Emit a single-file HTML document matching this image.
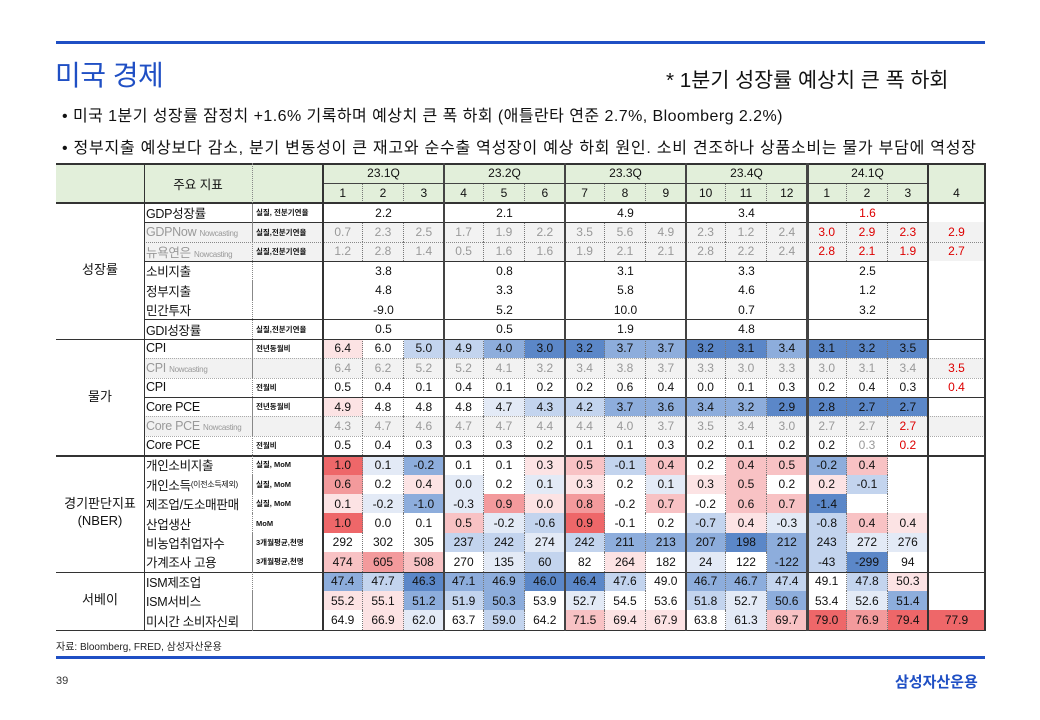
<!DOCTYPE html>
<html><head><meta charset="utf-8">
<style>
body{margin:0;background:#fff;width:1040px;height:720px;position:relative;overflow:hidden;font-family:"Liberation Sans","Noto Sans CJK KR",sans-serif;}
.a{position:absolute;}
.c{position:absolute;box-sizing:border-box;display:flex;align-items:center;justify-content:center;font-size:12px;color:#111;white-space:nowrap;}
.l{justify-content:flex-start;padding-left:2px;}
.u{font-size:7.5px;font-weight:bold;justify-content:flex-start;padding-left:3px;}
.ln{z-index:5;}
</style></head><body>
<div class="a" style="left:56px;top:41px;width:929px;height:3px;background:#1f4fc4"></div>
<div class="a" style="left:55px;top:54px;font-size:28px;color:#1f4fc4;letter-spacing:-0.5px">미국 경제</div>
<div class="a" style="left:666px;top:63px;font-size:20.7px;color:#111">* 1분기 성장률 예상치 큰 폭 하회</div>
<div class="a" style="left:62px;top:102px;font-size:16px;color:#111;letter-spacing:0.45px">• 미국 1분기 성장률 잠정치 +1.6% 기록하며 예상치 큰 폭 하회 (애틀란타 연준 2.7%, Bloomberg 2.2%)</div>
<div class="a" style="left:62px;top:134px;font-size:16px;color:#111;letter-spacing:0.75px">• 정부지출 예상보다 감소, 분기 변동성이 큰 재고와 순수출 역성장이 예상 하회 원인. 소비 견조하나 상품소비는 물가 부담에 역성장</div>
<div id="t"></div>
<div class="a" style="left:56px;top:638px;font-size:10px;color:#222">자료: Bloomberg, FRED, 삼성자산운용</div>
<div class="a" style="left:56px;top:656px;width:929px;height:3px;background:#1f4fc4"></div>
<div class="a" style="left:56px;top:675px;font-size:11px;color:#333">39</div>
<div class="a" style="left:895px;top:671px;font-size:15px;font-weight:bold;color:#1f4fc4">삼성자산운용</div>
<script>
var T=document.getElementById('t'),h='';
var MW=40.33,colX=[];
for(var i=0;i<12;i++)colX.push(323+i*MW);
for(var i=0;i<3;i++)colX.push(807+i*MW);
colX.push(928);
function cx(i){return colX[i];}
function cw(i){return i==15?57:MW;}
var RH=19.4,Y0=203;
function ry(r){return Y0+r*RH;}
var C={B3:'#5b87c8',B2:'#8daddc',B1:'#c3d4ee',B0:'#e3eaf6',W:'#ffffff',R0:'#fce3e4',R1:'#f8c2c4',R2:'#f39a9c',R3:'#ee6769','':'#fff'};
function cell(x,y,w,ht,txt,st,cls){h+='<div class="c '+(cls||'')+'" style="left:'+x+'px;top:'+y+'px;width:'+w+'px;height:'+ht+'px;'+(st||'')+'">'+txt+'</div>';}
function line(x,y,w,ht,st){h+='<div class="a ln" style="left:'+x+'px;top:'+y+'px;width:'+w+'px;height:'+ht+'px;'+st+'"></div>';}
var G='background:#e2efda;';
cell(56,163,88,40,'',G);
cell(144,163,108,40,'주요 지표',G+'font-size:12.5px');
cell(252,163,71,40,'',G);
var qs=['23.1Q','23.2Q','23.3Q','23.4Q','24.1Q'];
for(var q=0;q<5;q++)cell(323+q*121,163,121,20,qs[q],G);
cell(928,163,57,20,'',G);
var ms=['1','2','3','4','5','6','7','8','9','10','11','12','1','2','3','4'];
for(var i=0;i<16;i++)cell(cx(i),183,cw(i),20,ms[i],G+(i%3!=2&&i<15?'border-right:1px dotted #777;':''));
line(323,183,605,1,'background:#444');
var rows=[
['GDP성장률','실질, 전분기연율','q',['2.2','2.1','4.9','3.4','1.6r','']],
['<span style="color:#999">GDPNow <span style="font-size:8px">Nowcasting</span></span>','실질,전분기연율','g',['0.7','2.3','2.5','1.7','1.9','2.2','3.5','5.6','4.9','2.3','1.2','2.4','3.0r','2.9r','2.3r','2.9r']],
['<span style="color:#999">뉴욕연은 <span style="font-size:8px">Nowcasting</span></span>','실질,전분기연율','g',['1.2','2.8','1.4','0.5','1.6','1.6','1.9','2.1','2.1','2.8','2.2','2.4','2.8r','2.1r','1.9r','2.7r']],
['소비지출','','q',['3.8','0.8','3.1','3.3','2.5','']],
['정부지출','','q',['4.8','3.3','5.8','4.6','1.2','']],
['민간투자','','q',['-9.0','5.2','10.0','0.7','3.2','']],
['GDI성장률','실질,전분기연율','q',['0.5','0.5','1.9','4.8','','']],
['CPI','전년동월비','m',['6.4R0','6.0W','5.0B1','4.9B1','4.0B2','3.0B3','3.2B3','3.7B2','3.7B2','3.2B3','3.1B3','3.4B2','3.1B3','3.2B3','3.5B3','']],
['<span style="color:#999">CPI <span style="font-size:8px">Nowcasting</span></span>','','g',['6.4','6.2','5.2','5.2','4.1','3.2','3.4','3.8','3.7','3.3','3.0','3.3','3.0','3.1','3.4','3.5r']],
['CPI','전월비','m',['0.5','0.4','0.1','0.4','0.1','0.2','0.2','0.6','0.4','0.0','0.1','0.3','0.2','0.4','0.3','0.4r']],
['Core PCE','전년동월비','m',['4.9R0','4.8W','4.8W','4.8W','4.7B0','4.3B1','4.2B1','3.7B2','3.6B2','3.4B2','3.2B2','2.9B3','2.8B3','2.7B3','2.7B3','']],
['<span style="color:#999">Core PCE <span style="font-size:8px">Nowcasting</span></span>','','g',['4.3','4.7','4.6','4.7','4.7','4.4','4.4','4.0','3.7','3.5','3.4','3.0','2.7','2.7','2.7r','']],
['Core PCE','전월비','m',['0.5','0.4','0.3','0.3','0.3','0.2','0.1','0.1','0.3','0.2','0.1','0.2','0.2','0.3g','0.2r','']],
['개인소비지출','실질, MoM','m',['1.0R3','0.1B0','-0.2B2','0.1W','0.1W','0.3R0','0.5R1','-0.1B1','0.4R1','0.2W','0.4R1','0.5R1','-0.2B2','0.4R1','','']],
['개인소득<span style="font-size:8px">(이전소득제외)</span>','실질, MoM','m',['0.6R2','0.2W','0.4R0','0.0B0','0.2W','0.1B0','0.3R0','0.2W','0.1B0','0.3R0','0.5R1','0.2W','0.2R0','-0.1B1','','']],
['제조업/도소매판매','실질, MoM','m',['0.1R0','-0.2B0','-1.0B2','-0.3B0','0.9R2','0.0R0','0.8R2','-0.2W','0.7R1','-0.2W','0.6R1','0.7R1','-1.4B3','','','']],
['산업생산','MoM','m',['1.0R3','0.0W','0.1W','0.5R1','-0.2B0','-0.6B1','0.9R3','-0.1W','0.2W','-0.7B1','0.4R0','-0.3B0','-0.8B1','0.4R1','0.4R0','']],
['비농업취업자수','3개월평균,천명','m',['292W','302W','305W','237B1','242B1','274B0','242B1','211B2','213B2','207B2','198B3','212B2','243B1','272B0','276B0','']],
['가계조사 고용','3개월평균,천명','m',['474R1','605R2','508R1','270W','135B0','60B1','82W','264R0','182W','24B0','122W','-122B2','-43B1','-299B3','94W','']],
['ISM제조업','','m',['47.4B2','47.7B1','46.3B3','47.1B2','46.9B2','46.0B3','46.4B3','47.6B1','49.0W','46.7B2','46.7B2','47.4B1','49.1W','47.8B1','50.3R0','']],
['ISM서비스','','m',['55.2R0','55.1R0','51.2B2','51.9B1','50.3B2','53.9W','52.7B0','54.5W','53.6W','51.8B1','52.7B0','50.6B2','53.4W','52.6B0','51.4B2','']],
['미시간 소비자신뢰','','m',['64.9W','66.9R0','62.0B0','63.7W','59.0B1','64.2W','71.5R1','69.4R0','67.9R0','63.8W','61.3B0','69.7R1','79.0R3','76.9R2','79.4R3','77.9R3']]
];
for(var r=0;r<rows.length;r++){
 var R=rows[r],y=ry(r),g=R[2]=='g';
 var bg=g?'background:#f2f2f2;':'';
 cell(144,y,108,RH,R[0],bg+'font-size:12.5px;letter-spacing:-0.3px','l');
 cell(252,y,71,RH,R[1],bg+'border-left:1px dotted #888;','u');
 if(R[2]=='q'){
  for(var q=0;q<5;q++){var v=R[3][q],col=/r$/.test(v)?'#d00':'#111';cell(323+q*121,y,121,RH,v.replace(/r$/,''),'color:'+col);}
 } else {
  for(var i=0;i<16;i++){
   var v=R[3][i],m=v.match(/^(.*?)(B\d|R\d|W)?$/),txt=m[1],cc=m[2]||'',col=g?'#999':'#111';
   if(/r$/.test(txt)){txt=txt.slice(0,-1);col='#d00';}
   if(/g$/.test(txt)){txt=txt.slice(0,-1);col='#999';}
   var b=(g?'background:#f2f2f2;':'background:'+C[cc]+';');
   var br=(i%3!=2&&i<15)?'border-right:1px dotted #777;':'';
   cell(cx(i),y,cw(i),RH,txt,b+br+'color:'+col);
  }
 }
}
for(var r=3;r<7;r++)cell(928,ry(r),57,RH,'','background:#fff');
cell(928,ry(0),57,RH,'','background:#fff');
function cat(r0,r1,t){cell(56,ry(r0),88,ry(r1)-ry(r0),t,'font-size:13px;text-align:center;line-height:1.3');}
cat(0,7,'성장률');cat(7,13,'물가');cat(13,19,'경기판단지표<br>(NBER)');cat(19,22,'서베이');
var D='background:#333';
line(56,163,929,1.5,D);
line(56,202,929,1.5,D);
line(144,ry(1),784,1,D);
line(144,ry(3),784,1,D);
line(144,ry(2),841,0,'border-top:1px dotted #888');
line(144,ry(6),784,1,D);
line(56,ry(7),929,1.5,D);
line(144,ry(8),841,0,'border-top:1px dotted #aaa');
line(144,ry(9),841,0,'border-top:1px dotted #aaa');
line(144,ry(10),841,1,D);
line(144,ry(11),841,0,'border-top:1px dotted #aaa');
line(144,ry(12),841,0,'border-top:1px dotted #aaa');
line(56,ry(13),929,1.5,D);
line(56,ry(19),929,1.5,D);
line(56,ry(22),929,1.5,D);
var TOP=163,BOT=ry(22)+1,HH=BOT-TOP;
line(984,TOP,1.5,HH,D);
line(144,TOP,1,HH,D);
line(252,TOP,0,HH,'border-left:1px dotted #888');
line(322,TOP,1.5,HH,D);
[444,565,686].forEach(function(x){line(x-1,TOP,2,HH,'background:#444');});
line(805.5,TOP,3,HH,'background:#444');
line(927,TOP,1.5,HH,D);
T.innerHTML=h;
</script>
</body></html>
